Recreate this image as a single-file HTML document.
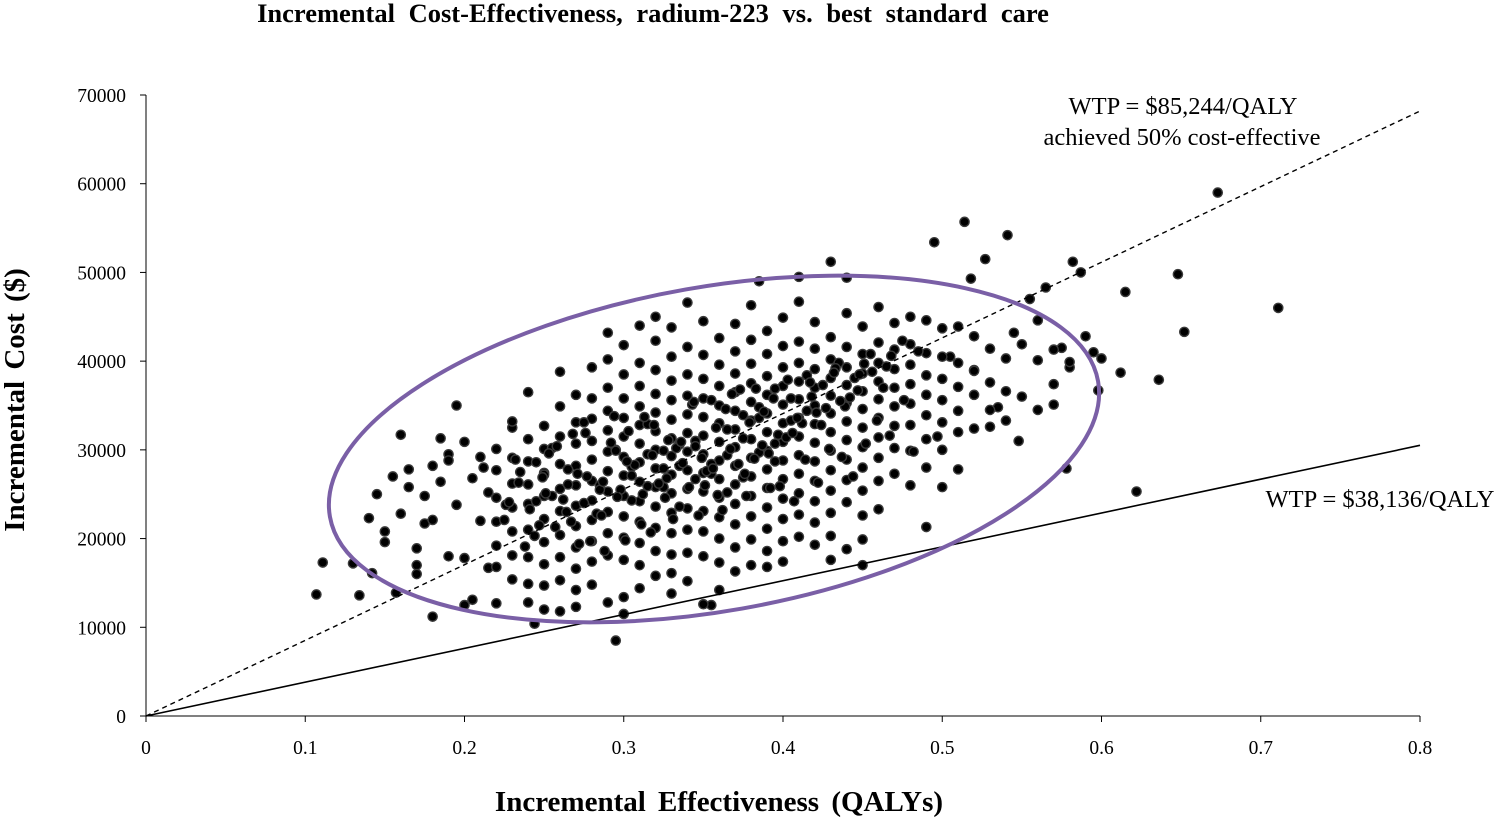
<!DOCTYPE html>
<html><head><meta charset="utf-8"><style>
html,body{margin:0;padding:0;background:#fff;}
svg text{font-family:"Liberation Serif",serif;}
</style></head><body>
<svg id="chart" width="1504" height="820" xmlns="http://www.w3.org/2000/svg"></svg>
<script>
const xTicks=[0,0.1,0.2,0.3,0.4,0.5,0.6,0.7,0.8];
const xTickLabels=["0","0.1","0.2","0.3","0.4","0.5","0.6","0.7","0.8"];
const yTicks=[0,10000,20000,30000,40000,50000,60000,70000];
const yTickLabels=["0","10000","20000","30000","40000","50000","60000","70000"];
const wtpHigh=85244;
const wtpLow=38136;
// incremental effectiveness values (QALYs)
const effX=[0.673,0.711,0.514,0.541,0.495,0.43,0.582,0.648,0.652,0.622,0.636,0.615,0.107,0.111,0.134,0.157,0.142,0.295,0.244,0.355,0.45,0.578,0.49,0.16,0.18,0.195,0.385,0.41,0.44,0.527,0.518,0.565,0.587,0.6,0.59,0.612,0.598,0.575,0.555,0.545,0.57,0.53,0.52,0.505,0.51,0.535,0.56,0.548,0.58,0.595,
0.13,0.145,0.15,0.165,0.17,0.175,0.185,0.19,0.2,0.205,0.21,0.16,0.17,0.18,0.19,0.2,0.15,0.165,0.175,0.185,0.195,0.205,0.17,0.18,0.19,0.14,0.155,0.2,0.21,0.215,
0.22,0.22,0.22,0.22,0.22,0.22,0.22,0.23,0.23,0.23,0.23,0.23,0.23,0.23,0.23,0.24,0.24,0.24,0.24,0.24,0.24,0.24,0.24,0.24,0.25,0.25,0.25,0.25,0.25,0.25,0.25,0.25,0.25,0.25,
0.26,0.26,0.26,0.26,0.26,0.26,0.26,0.26,0.26,0.26,0.27,0.27,0.27,0.27,0.27,0.27,0.27,0.27,0.27,0.27,0.27,0.28,0.28,0.28,0.28,0.28,0.28,0.28,0.28,0.28,0.28,0.28,
0.29,0.29,0.29,0.29,0.29,0.29,0.29,0.29,0.29,0.29,0.29,0.29,0.3,0.3,0.3,0.3,0.3,0.3,0.3,0.3,0.3,0.3,0.3,0.3,0.3,0.31,0.31,0.31,0.31,0.31,0.31,0.31,0.31,0.31,0.31,0.31,0.31,0.31,
0.32,0.32,0.32,0.32,0.32,0.32,0.32,0.32,0.32,0.32,0.32,0.32,0.32,0.33,0.33,0.33,0.33,0.33,0.33,0.33,0.33,0.33,0.33,0.33,0.33,0.33,0.33,0.34,0.34,0.34,0.34,0.34,0.34,0.34,0.34,0.34,0.34,0.34,0.34,0.34,
0.35,0.35,0.35,0.35,0.35,0.35,0.35,0.35,0.35,0.35,0.35,0.35,0.35,0.36,0.36,0.36,0.36,0.36,0.36,0.36,0.36,0.36,0.36,0.36,0.36,0.36,0.37,0.37,0.37,0.37,0.37,0.37,0.37,0.37,0.37,0.37,0.37,0.37,0.37,
0.38,0.38,0.38,0.38,0.38,0.38,0.38,0.38,0.38,0.38,0.38,0.38,0.38,0.39,0.39,0.39,0.39,0.39,0.39,0.39,0.39,0.39,0.39,0.39,0.39,0.39,0.4,0.4,0.4,0.4,0.4,0.4,0.4,0.4,0.4,0.4,0.4,0.4,0.4,
0.41,0.41,0.41,0.41,0.41,0.41,0.41,0.41,0.41,0.41,0.41,0.41,0.42,0.42,0.42,0.42,0.42,0.42,0.42,0.42,0.42,0.42,0.42,0.42,0.43,0.43,0.43,0.43,0.43,0.43,0.43,0.43,0.43,0.43,0.43,0.43,
0.44,0.44,0.44,0.44,0.44,0.44,0.44,0.44,0.44,0.44,0.44,0.45,0.45,0.45,0.45,0.45,0.45,0.45,0.45,0.45,0.45,0.45,0.46,0.46,0.46,0.46,0.46,0.46,0.46,0.46,0.46,0.46,
0.47,0.47,0.47,0.47,0.47,0.47,0.47,0.47,0.48,0.48,0.48,0.48,0.48,0.48,0.48,0.48,0.49,0.49,0.49,0.49,0.49,0.49,0.49,0.5,0.5,0.5,0.5,0.5,0.5,0.5,
0.51,0.51,0.51,0.51,0.51,0.52,0.52,0.52,0.52,0.53,0.53,0.53,0.54,0.54,0.54,0.55,0.55,0.56,0.56,0.57,0.57,0.58,
0.215,0.235,0.255,0.275,0.295,0.315,0.335,0.355,0.375,0.395,0.415,0.435,0.455,0.475,0.225,0.245,0.265,0.285,0.305,0.325,0.345,0.365,0.385,0.405,0.425,0.445,0.465,0.485,
0.305,0.315,0.325,0.335,0.345,0.355,0.365,0.375,0.385,0.395,0.405,0.415,0.305,0.315,0.325,0.335,0.345,0.355,0.365,0.375,0.385,0.395,0.285,0.275,0.265,0.295,0.255,0.245,
0.226,0.234,0.247,0.253,0.262,0.268,0.277,0.283,0.292,0.298,0.307,0.313,0.322,0.328,0.337,0.343,0.352,0.358,0.367,0.373,0.382,0.388,0.397,0.403,0.412,0.418,0.427,0.433,0.442,0.448,
0.232,0.244,0.251,0.264,0.271,0.279,0.287,0.296,0.303,0.311,0.318,0.327,0.333,0.341,0.349,0.356,0.364,0.372,0.379,0.387,0.394,0.402,0.409,0.417,0.424,0.432,0.439,0.447,0.456,0.463,
0.238,0.249,0.258,0.267,0.276,0.286,0.294,0.302,0.312,0.319,0.326,0.336,0.344,0.351,0.359,0.368,0.376,0.383,0.391,0.398,0.406,0.414,0.421,0.429,0.436,0.444,0.451,0.459,0.468,0.476,
0.212,0.228,0.241,0.257,0.272,0.288,0.301,0.317,0.331,0.347,0.362,0.377,0.392,0.407,0.422,0.437,0.452,0.467,0.482,0.497];
// incremental cost values ($)
const costY=[59000,46000,55700,54200,53400,51200,51200,49800,43300,25300,37900,47800,13700,17300,13600,13900,16100,8500,10400,12500,17000,27900,21300,31700,11200,35000,49000,49500,49400,51500,49300,48300,50000,40300,42800,38700,36700,41500,47000,43200,35100,32600,39000,40500,27800,34800,44600,31000,39300,41000,
17200,25000,19600,27800,17000,24800,26400,29500,30900,26800,22000,22800,16000,28200,18000,17800,20800,25800,21700,31300,23800,13100,18900,22100,28800,22300,27000,12500,29200,16700,
30100,27700,24600,21900,19200,16800,12700,32500,29100,26200,23500,20800,18100,15400,33200,31200,28700,26100,23900,21000,17900,14900,12800,36500,27400,32700,30100,27200,24800,22200,19600,17100,14700,12000,
38800,34900,31500,28400,25600,23100,20400,17900,15300,11800,36200,33100,30700,28200,26000,23700,21400,19000,16600,14200,12300,39300,35800,33500,31000,28900,26500,24300,22100,19700,17400,14800,
43200,40200,37000,34400,32200,29800,27600,25300,23000,20600,18100,12800,41800,38500,35800,33600,31500,29200,27100,24800,22500,20100,17600,13400,11500,44000,39800,37200,34900,32800,30700,28600,26400,24200,21900,19500,17000,14400,
45000,42300,39000,36300,34200,32100,30000,27900,25800,23600,21200,18600,15800,43800,40500,37800,35600,33400,31300,29300,27200,25100,22900,20600,18200,16100,13800,46600,41600,38500,36100,34000,31900,29800,27700,25600,23400,21000,18400,15200,
44500,40700,38000,35800,33700,31600,29500,27400,25300,23100,20800,18000,12600,42600,39600,37200,35000,33000,30900,28800,26700,24600,22400,20000,17300,14200,44200,41100,38600,36500,34400,32300,30300,28200,26100,23900,21600,19000,16300,
46300,42400,39700,37500,35400,33300,31200,29100,27000,24800,22500,19900,17000,43400,40800,38300,36200,34100,32000,29900,27800,25700,23500,21100,18600,16800,44900,41700,39300,37200,35100,33000,30900,28800,26700,24500,22200,19700,17400,
46700,42200,39800,37700,35700,33600,31500,29400,27300,25100,22700,20200,44400,41400,39100,37000,35000,32900,30800,28700,26500,24200,21800,19300,42700,40200,38100,36100,34100,32000,29900,27700,25400,22900,20300,17600,
45400,41600,39300,37300,35300,33200,31100,28900,26600,24100,18800,43900,40800,38600,36600,34600,32500,30300,28000,25400,22600,19900,46100,42100,39800,37700,35700,33600,31400,29100,26500,23300,
44300,41300,39100,37000,34900,32700,30200,27300,45000,41900,39600,37400,35200,32800,29900,26000,44600,40900,38400,36200,33900,31200,28000,43700,40500,38000,35600,33100,30000,25800,
43900,39800,37100,34400,32000,42800,38900,36200,32400,41400,37600,34500,40300,36600,33300,41900,36000,40100,34500,41300,37400,39900,
25200,27500,30200,33100,30000,32900,30600,35600,33900,36900,38400,39800,40800,42300,22100,24200,27800,26000,28100,29900,31000,32300,34800,35800,37300,38100,39400,41100,
27100,29500,25800,28200,30400,27300,29400,31300,33600,30700,33300,34400,24300,25900,27900,23600,26700,28400,25200,26900,29700,28700,25500,24000,26100,29900,24800,28600,
23800,26300,21500,29600,24400,31800,27000,22800,30800,25500,28300,33700,26200,31100,28500,35100,27600,32500,30100,36800,29000,34300,31700,37900,33000,36000,34700,39200,35900,38500,
28900,20300,25100,23000,27300,19700,26400,24700,32100,21600,29400,26800,30200,25800,29100,27900,34600,28400,33100,30500,35800,31400,33600,37600,32800,38700,34900,36700,38800,37000,
19100,26900,30400,21900,31900,22600,33800,28700,25000,32800,24600,30900,35400,26000,24900,36300,27300,36900,29600,25900,31900,28900,34200,30100,35500,27000,39700,33300,40600,35600,
28000,24100,23300,21300,19400,18600,19800,20700,22200,22600,23200,24800,25700,24200,26300,29200,30700,31600,29800,31500];
const NS='http://www.w3.org/2000/svg';
const svg=document.getElementById('chart');
const X0=146,X1=1420,Y0=716,Y1=95;
function xs(v){return X0+(v-0)/(0.8)*(X1-X0);}
function ys(v){return Y0-(v/70000)*(Y0-Y1);}
function mk(tag,attrs,parent){const e=document.createElementNS(NS,tag);for(const k in attrs)e.setAttribute(k,attrs[k]);(parent||svg).appendChild(e);return e;}

let t=mk('text',{x:653,y:22,'text-anchor':'middle','font-size':'26.5','font-weight':'bold','word-spacing':'7'});


t.textContent='Incremental Cost-Effectiveness, radium-223 vs. best standard care';

// axes
let ax=mk('line',{x1:X0,y1:Y0,x2:X1,y2:Y0,stroke:'#000','stroke-width':1});


let ay=mk('line',{x1:X0,y1:Y0,x2:X0,y2:Y1,stroke:'#000','stroke-width':1});


xTicks.forEach((v,i)=>{
  const tk=mk('line',{x1:xs(v),y1:Y0,x2:xs(v),y2:Y0+6,stroke:'#000'});
  
  
  const l=mk('text',{x:xs(v),y:Y0+38,'text-anchor':'middle','font-size':'19.5'});
  
  
  l.textContent=xTickLabels[i];
});
yTicks.forEach((v,i)=>{
  const tk=mk('line',{x1:X0-6,y1:ys(v),x2:X0,y2:ys(v),stroke:'#000'});
  
  
  const l=mk('text',{x:X0-20,y:ys(v)+7,'text-anchor':'end','font-size':'19.5'});
  
  
  l.textContent=yTickLabels[i];
});
let xt=mk('text',{x:719,y:811,'text-anchor':'middle','font-size':'29','font-weight':'bold','word-spacing':'5'});


xt.textContent='Incremental Effectiveness (QALYs)';
let yt=mk('text',{x:0,y:0,'text-anchor':'middle','font-size':'29','font-weight':'bold','word-spacing':'4',transform:'translate(24,400) rotate(-90)'});


yt.textContent='Incremental Cost ($)';

// points
const g=mk('g',{});


effX.forEach((v,i)=>{
  const c=mk('circle',{cx:xs(v),cy:ys(costY[i]),r:4.6,fill:'#000',stroke:'#3a3a3a','stroke-width':1.4},g);
  
  
});

// WTP lines
let l1=mk('line',{x1:xs(0),y1:ys(0),x2:xs(0.8),y2:ys(wtpHigh*0.8),stroke:'#000','stroke-width':1.4,'stroke-dasharray':'5,4'});


let l2=mk('line',{x1:xs(0),y1:ys(0),x2:xs(0.8),y2:ys(wtpLow*0.8),stroke:'#000','stroke-width':1.6});



// ellipse
let el=mk('ellipse',{cx:714,cy:449,rx:390,ry:162,fill:'none',stroke:'#7a5fa6','stroke-width':4,transform:'rotate(-10 714 449)'});



let a1=mk('text',{x:1183,y:114,'text-anchor':'middle','font-size':'24.5'});


a1.textContent='WTP = $85,244/QALY';
let a2=mk('text',{x:1182,y:145,'text-anchor':'middle','font-size':'24.5'});


a2.textContent='achieved 50% cost-effective';
let a3=mk('text',{x:1380,y:507,'text-anchor':'middle','font-size':'24.5'});


a3.textContent='WTP = $38,136/QALY';
</script>
</body></html>
